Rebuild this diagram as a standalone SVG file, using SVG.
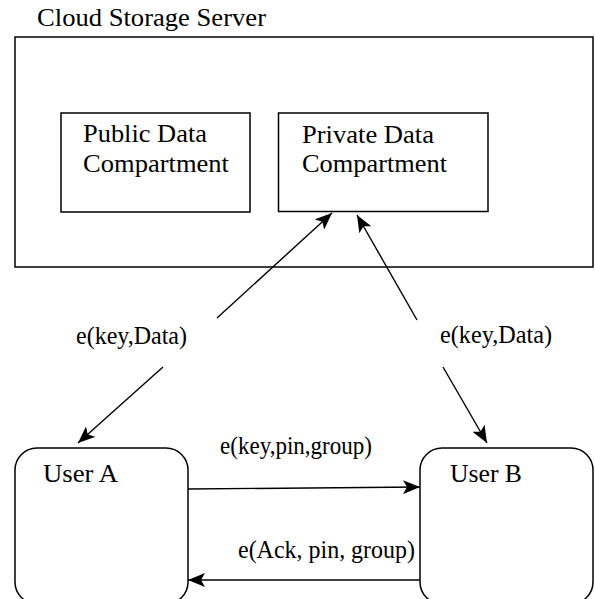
<svg xmlns="http://www.w3.org/2000/svg" width="595" height="599" viewBox="0 0 595 599">
<style>
text{font-family:"Liberation Serif","Times New Roman",Times,serif;font-size:25px;fill:#000}
.box{fill:#fff;stroke:#000;stroke-width:1.5}
.ln{fill:none;stroke:#000;stroke-width:1.4}
</style>
<defs>
<marker id="ah" markerWidth="18" markerHeight="14" refX="17" refY="7" orient="auto" markerUnits="userSpaceOnUse">
<path d="M0,0 L17,7 L0,14 L4,7 Z" fill="#000"/>
</marker>
</defs>
<rect width="595" height="599" fill="#fff"/>
<g id="server">
<text x="37" y="26" textLength="229" lengthAdjust="spacingAndGlyphs">Cloud Storage Server</text>
<rect class="box" x="15" y="37" width="578" height="230"/>
</g>
<g id="public">
<rect class="box" x="61" y="113" width="189" height="99"/>
<text x="83" y="142" textLength="124" lengthAdjust="spacingAndGlyphs">Public Data</text>
<text x="83" y="172" textLength="146" lengthAdjust="spacingAndGlyphs">Compartment</text>
</g>
<g id="private">
<rect class="box" x="278.5" y="113" width="209.5" height="98.5"/>
<text x="302" y="143" textLength="132" lengthAdjust="spacingAndGlyphs">Private Data</text>
<text x="302" y="172" textLength="145" lengthAdjust="spacingAndGlyphs">Compartment</text>
</g>
<g id="userA">
<rect class="box" x="15" y="448" width="173" height="156" rx="22"/>
<text x="43" y="482" textLength="75" lengthAdjust="spacingAndGlyphs">User A</text>
</g>
<g id="userB">
<rect class="box" x="420" y="448" width="173" height="156" rx="22"/>
<text x="450" y="482" textLength="72" lengthAdjust="spacingAndGlyphs">User B</text>
</g>
<g id="connectors">
<line class="ln" x1="217" y1="318" x2="332" y2="213" marker-end="url(#ah)"/>
<line class="ln" x1="163" y1="367" x2="78" y2="443" marker-end="url(#ah)"/>
<text x="76" y="344" textLength="111" lengthAdjust="spacingAndGlyphs">e(key,Data)</text>
<line class="ln" x1="417" y1="320" x2="357" y2="215" marker-end="url(#ah)"/>
<line class="ln" x1="443" y1="367" x2="487" y2="443" marker-end="url(#ah)"/>
<text x="440" y="343" textLength="112" lengthAdjust="spacingAndGlyphs">e(key,Data)</text>
<line class="ln" x1="188" y1="489" x2="420" y2="487" marker-end="url(#ah)"/>
<text x="220" y="454" textLength="152" lengthAdjust="spacingAndGlyphs">e(key,pin,group)</text>
<line class="ln" x1="420" y1="580" x2="188" y2="580" marker-end="url(#ah)"/>
<text x="238" y="558" textLength="177" lengthAdjust="spacingAndGlyphs">e(Ack, pin, group)</text>
</g>
</svg>
